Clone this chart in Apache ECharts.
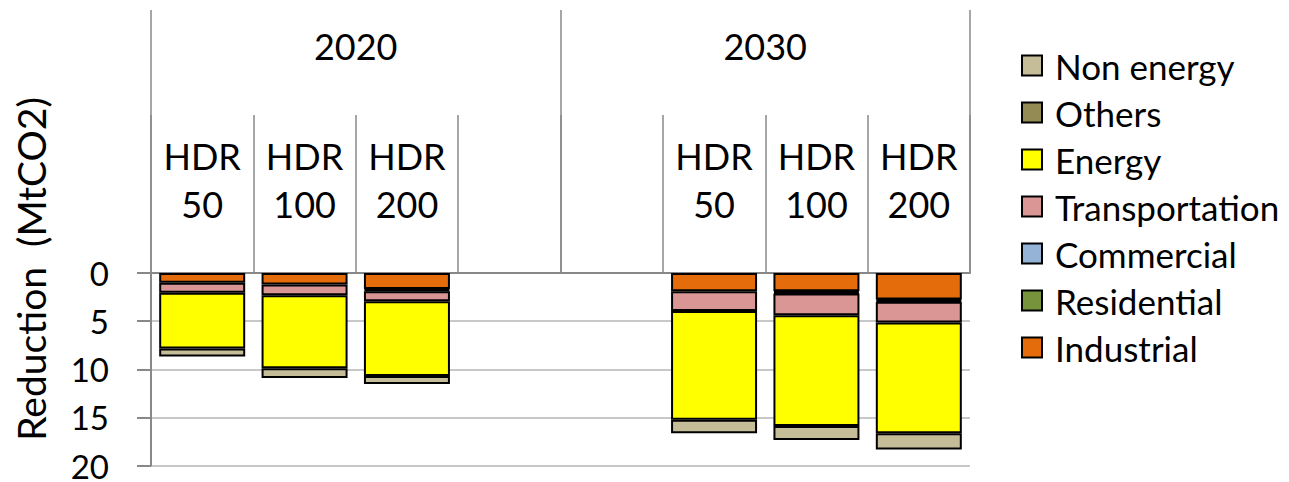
<!DOCTYPE html>
<html>
<head>
<meta charset="utf-8">
<script src="https://cdn.jsdelivr.net/npm/echarts@6/dist/echarts.min.js"></script>
<style>
  html, body { margin: 0; padding: 0; background: #fff; }
  #chart { width: 1289px; height: 482px; }
</style>
</head>
<body>
<div id="chart"></div>
<script>
// Scenario slots: two empty slots split the 2020 and 2030 groups
const scenarios = ['HDR\n50', 'HDR\n100', 'HDR\n200', '', '', 'HDR\n50', 'HDR\n100', 'HDR\n200'];
const years = ['2020', '2030'];
const yTicks = { min: 0, max: 20, interval: 5 };

// CO2 reduction by sector (MtCO2); '-' marks an empty slot or a zero segment
const industrial     = [1.0, 1.2, 1.65, '-', '-', 1.9, 1.9, 2.75];
const residential    = ['-', '-', 0.12, '-', '-', '-', 0.12, 0.12];
const commercial     = ['-', '-', 0.12, '-', '-', '-', 0.12, 0.12];
const transportation = [1.05, 1.1, 1.05, '-', '-', 2.05, 2.25, 2.15];
const energy         = [5.8, 7.6, 7.75, '-', '-', 11.3, 11.5, 11.5];
const others         = ['-', '-', '-', '-', '-', '-', '-', '-'];
const nonEnergy      = [0.83, 1.0, 0.85, '-', '-', 1.4, 1.45, 1.7];

const sectors = [
  { name: 'Industrial',     data: industrial,     color: '#E46C0A' },
  { name: 'Residential',    data: residential,    color: '#77933C' },
  { name: 'Commercial',     data: commercial,     color: '#95B3D7' },
  { name: 'Transportation', data: transportation, color: '#D99694' },
  { name: 'Energy',         data: energy,         color: '#FFFF00' },
  { name: 'Others',         data: others,         color: '#948A54' },
  { name: 'Non energy',     data: nonEnergy,      color: '#C4BD97' }
];
const legendOrder = ['Non energy', 'Others', 'Energy', 'Transportation', 'Commercial', 'Residential', 'Industrial'];

const FONT = 'Lato';
const GRID_GRAY = '#C8C8C8';
const AXIS_GRAY = '#888888';

const chart = echarts.init(document.getElementById('chart'), null, { renderer: 'svg' });
chart.setOption({
  animation: false,
  backgroundColor: '#ffffff',
  textStyle: { fontFamily: FONT, color: '#000' },
  grid: { left: 151, right: 319, top: 273, bottom: 16 },
  legend: {
    orient: 'vertical',
    left: 1016,
    top: 43,
    itemWidth: 20,
    itemHeight: 20,
    itemGap: 12,
    icon: 'rect',
    data: legendOrder,
    textStyle: { fontFamily: FONT, fontSize: 35, color: '#000', padding: [0, 0, 0, 8] }
  },
  graphic: [{
    type: 'text',
    x: 31,
    y: 269,
    rotation: Math.PI / 2,
    style: {
      text: 'Reduction  (MtCO2)',
      font: '39px ' + FONT,
      fill: '#000',
      textAlign: 'center',
      textVerticalAlign: 'middle'
    }
  }],
  xAxis: [{
    type: 'category',
    position: 'top',
    data: scenarios,
    axisLine: { show: true, lineStyle: { color: AXIS_GRAY, width: 2 } },
    axisTick: { show: true, length: 158, lineStyle: { color: AXIS_GRAY, width: 1.5 } },
    axisLabel: { interval: 0, margin: 45, fontSize: 36, lineHeight: 48, color: '#000', fontFamily: FONT }
  }, {
    type: 'category',
    position: 'top',
    data: years,
    axisLine: { show: false },
    axisTick: { show: true, length: 263, lineStyle: { color: AXIS_GRAY, width: 1.5 } },
    axisLabel: { interval: 0, margin: 209, fontSize: 36, color: '#000', fontFamily: FONT }
  }],
  yAxis: {
    type: 'value',
    inverse: true,
    min: yTicks.min,
    max: yTicks.max,
    interval: yTicks.interval,
    axisLine: { show: true, lineStyle: { color: AXIS_GRAY, width: 2 } },
    axisTick: { show: true, length: 14, lineStyle: { color: AXIS_GRAY, width: 2 } },
    axisLabel: { margin: 42, fontSize: 33, lineHeight: 26, padding: [0, 0, 6, 0], color: '#000', fontFamily: FONT },
    splitLine: { show: true, lineStyle: { color: GRID_GRAY, width: 2 } }
  },
  series: sectors.map(s => ({
    name: s.name,
    type: 'bar',
    stack: 'total',
    xAxisIndex: 0,
    barWidth: 86,
    data: s.data,
    itemStyle: { color: s.color, borderColor: '#000', borderWidth: 2 }
  }))
});
</script>
</body>
</html>
